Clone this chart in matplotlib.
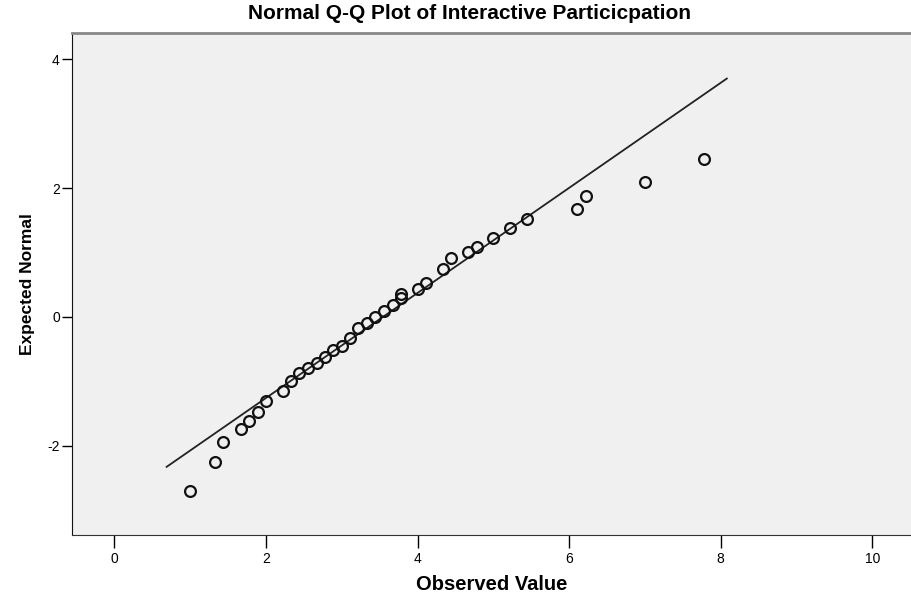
import numpy as np
import matplotlib.pyplot as plt

plt.rcParams['font.family'] = ['Liberation Sans', 'DejaVu Sans']
plt.rcParams['axes.unicode_minus'] = False

# observed values and their expected normal scores
observed = [1.00, 1.33, 1.44, 1.67, 1.78, 1.89, 2.00, 2.22, 2.33, 2.44,
            2.56, 2.67, 2.78, 2.89, 3.00, 3.11, 3.22, 3.33, 3.44, 3.56,
            3.67, 3.78, 3.78, 4.00, 4.11, 4.33, 4.44, 4.67, 4.78, 5.00,
            5.22, 5.44, 6.11, 6.22, 7.00, 7.78]
expected = [-2.70, -2.25, -1.94, -1.75, -1.62, -1.48, -1.31, -1.15, -1.00, -0.87,
            -0.80, -0.71, -0.62, -0.52, -0.45, -0.33, -0.18, -0.10, 0.00, 0.09,
            0.19, 0.29, 0.36, 0.43, 0.53, 0.75, 0.91, 1.00, 1.09, 1.22,
            1.38, 1.52, 1.68, 1.88, 2.10, 2.46]

# reference line: y = (x - mean) / sd
line_mean = 3.545
line_sd = 1.225
line_x = [0.69, 8.08]

xticks = [0, 2, 4, 6, 8, 10]
yticks = [-2, 0, 2, 4]

fig = plt.figure(figsize=(9.11, 5.96), dpi=100)
ax = fig.add_axes([0.0794, 0.1023, 0.9206, 0.8423])
ax.set_facecolor('#f0f0f0')

lx = np.array(line_x)
ax.plot(lx, (lx - line_mean) / line_sd, color='#222222', lw=1.3)
ax.plot(observed, expected, 'o', mfc='none', mec='#111111', mew=1.6, ms=7.8)

ax.set_xlim(-0.554, 10.51)
ax.set_ylim(-3.39, 4.41)
ax.set_xticks(xticks)
ax.set_yticks(yticks)
ax.tick_params(axis='x', length=9, width=1, pad=3, labelsize=10)
ax.tick_params(axis='y', length=7, width=1, pad=2, labelsize=10)

ax.spines['left'].set_color('#111111')
ax.spines['bottom'].set_color('#333333')
ax.spines['top'].set_color('#888888')
ax.spines['top'].set_linewidth(2)
ax.spines['right'].set_visible(False)

ax.set_xlabel('Observed Value', fontsize=14.5, fontweight='bold', labelpad=7)
ax.set_ylabel('Expected Normal', fontsize=12.5, fontweight='bold', labelpad=9)
fig.text(0.515, 0.978, 'Normal Q-Q Plot of Interactive Particicpation',
         ha='center', va='center', fontsize=15, fontweight='bold')

fig.savefig('out.png', dpi=100)
